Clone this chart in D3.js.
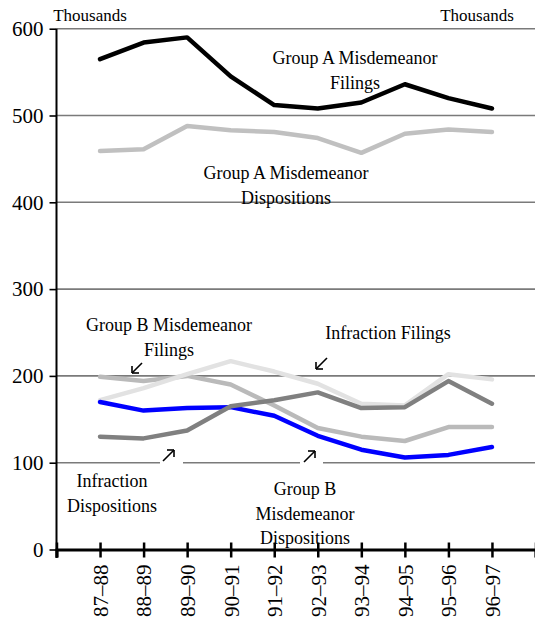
<!DOCTYPE html>
<html>
<head>
<meta charset="utf-8">
<script src="https://cdn.jsdelivr.net/npm/d3@7"></script>
<style>
  html, body { margin: 0; padding: 0; background: #fff; }
  svg { display: block; }
  svg text { font-family: "Liberation Serif", "Times New Roman", "DejaVu Serif", serif !important; fill: #000; }
</style>
</head>
<body>
<script>
// ---- data ----
const categories = ["87–88", "88–89", "89–90", "90–91", "91–92", "92–93", "93–94", "94–95", "95–96", "96–97"];
const groupAFilings      = [565, 584, 590, 545, 512, 508, 515, 536, 520, 508];
const groupADispositions = [459, 461, 488, 483, 481, 474, 457, 479, 484, 481];
const groupBFilings      = [199, 194, 200, 190, 166, 140, 130, 125, 141, 141];
const infractionFilings  = [172, 186, 202, 217, 205, 191, 168, 166, 202, 196];
const infractionDispositions = [130, 128, 137, 165, 172, 181, 163, 164, 194, 168];
const groupBDispositions = [170, 160, 163, 164, 154, 131, 115, 106, 109, 118];
const yTicks = [0, 100, 200, 300, 400, 500, 600];
const unitLabel = "Thousands";

const seriesList = [
  { name: "Group A Misdemeanor Filings", values: groupAFilings, color: "#000000", width: 4.5 },
  { name: "Group A Misdemeanor Dispositions", values: groupADispositions, color: "#c0c0c0", width: 4.5 },
  { name: "Group B Misdemeanor Filings", values: groupBFilings, color: "#bababa", width: 4.5 },
  { name: "Infraction Filings", values: infractionFilings, color: "#e2e2e2", width: 4.5 },
  { name: "Group B Misdemeanor Dispositions", values: groupBDispositions, color: "#0000ff", width: 4.5 },
  { name: "Infraction Dispositions", values: infractionDispositions, color: "#808080", width: 4.5 }
];

const SERIF = "'Liberation Serif', 'Times New Roman', 'DejaVu Serif', serif";

// ---- layout ----
const W = 535, H = 626;
const svg = d3.select("body").append("svg").attr("width", W).attr("height", H)
  .attr("font-family", SERIF);

const x = d3.scaleLinear().domain([0, categories.length + 1]).range([56.5, 535.5]);
const y = d3.scaleLinear().domain([0, 600]).range([549.5, 28.7]);
const xi = i => x(i + 1);

// gridlines
svg.append("g").selectAll("line").data(yTicks.filter(d => d > 0)).join("line")
  .attr("x1", x(0)).attr("x2", W)
  .attr("y1", d => y(d)).attr("y2", d => y(d))
  .attr("stroke", "#7a7a7a").attr("stroke-width", 1.6);

// y axis
const yAxis = d3.axisLeft(y).tickValues(yTicks).tickSize(7).tickPadding(6).tickFormat(d3.format("d"));
const gy = svg.append("g").attr("transform", `translate(${x(0)},0)`).call(yAxis)
  .attr("font-family", SERIF).attr("font-size", 21);
gy.select(".domain").remove();
gy.selectAll(".tick line").attr("stroke", "#000").attr("stroke-width", 1.6);
svg.append("line").attr("x1", x(0)).attr("x2", x(0)).attr("y1", y(600)).attr("y2", 558)
  .attr("stroke", "#000").attr("stroke-width", 2);

// lines
const line = d3.line().x((d, i) => xi(i)).y(d => y(d));
svg.append("g").selectAll("path").data(seriesList).join("path")
  .attr("d", s => line(s.values))
  .attr("fill", "none")
  .attr("stroke", s => s.color)
  .attr("stroke-width", s => s.width)
  .attr("stroke-linejoin", "round")
  .attr("stroke-linecap", "round");

// x axis
const tickIdx = d3.range(0, categories.length + 2);
const xAxis = d3.axisBottom(x).tickValues(tickIdx).tickSize(8).tickPadding(7)
  .tickFormat(i => (i >= 1 && i <= categories.length) ? categories[i - 1] : "");
const gx = svg.append("g").attr("transform", `translate(0,${y(0)})`).call(xAxis)
  .attr("font-family", SERIF).attr("font-size", 21);
gx.select(".domain").attr("stroke", "#000").attr("stroke-width", 3);
gx.selectAll(".tick line").attr("stroke", "#000").attr("stroke-width", 2.5);
gx.selectAll(".tick text")
  .attr("text-anchor", "end")
  .attr("transform", "rotate(-90)")
  .attr("x", -15).attr("y", 0).attr("dy", "0.35em");
const gxUp = svg.append("g").attr("transform", `translate(0,${y(0)})`)
  .call(d3.axisTop(x).tickValues(tickIdx).tickSize(7).tickFormat(""));
gxUp.select(".domain").remove();
gxUp.selectAll(".tick line").attr("stroke", "#000").attr("stroke-width", 2.5);

// unit labels
svg.append("text").attr("x", 90).attr("y", 15).attr("dy", "0.35em").attr("text-anchor", "middle")
  .attr("font-size", 17).text(unitLabel);
svg.append("text").attr("x", 477).attr("y", 15).attr("dy", "0.35em").attr("text-anchor", "middle")
  .attr("font-size", 17).text(unitLabel);

// annotations
const notes = [
  { lines: ["Group A Misdemeanor", "Filings"], cx: 355, cy: 58 },
  { lines: ["Group A Misdemeanor", "Dispositions"], cx: 286, cy: 173 },
  { lines: ["Group B Misdemeanor", "Filings"], cx: 169, cy: 325 },
  { lines: ["Infraction Filings"], cx: 388, cy: 333 },
  { lines: ["Infraction", "Dispositions"], cx: 112, cy: 481 },
  { lines: ["Group B", "Misdemeanor", "Dispositions"], cx: 305, cy: 489 }
];
notes.forEach(n => {
  const t = svg.append("text").attr("text-anchor", "middle").attr("font-size", 18);
  n.lines.forEach((l, k) => {
    t.append("tspan").attr("x", n.cx).attr("y", n.cy + k * 24.5).attr("dy", "0.35em").text(l);
  });
});

// gaps on 100 gridline behind up-arrows
[[160, 183], [300, 323]].forEach(([a, b]) => {
  svg.append("rect").attr("x", a).attr("width", b - a).attr("y", y(100) - 3).attr("height", 6).attr("fill", "#fff");
});

// arrows
function arrow(x1, y1, x2, y2) {
  const g = svg.append("g").attr("stroke", "#000").attr("stroke-width", 1.6).attr("fill", "none");
  g.append("line").attr("x1", x1).attr("y1", y1).attr("x2", x2).attr("y2", y2);
  const sx = Math.sign(x1 - x2), sy = Math.sign(y1 - y2);
  g.append("line").attr("x1", x2).attr("y1", y2).attr("x2", x2 + sx * 7).attr("y2", y2);
  g.append("line").attr("x1", x2).attr("y1", y2).attr("x2", x2).attr("y2", y2 + sy * 7);
}
arrow(142, 363, 132, 373);
arrow(327, 358, 316, 369);
arrow(163, 461, 174, 450);
arrow(304, 462, 315, 451);
</script>
</body>
</html>
